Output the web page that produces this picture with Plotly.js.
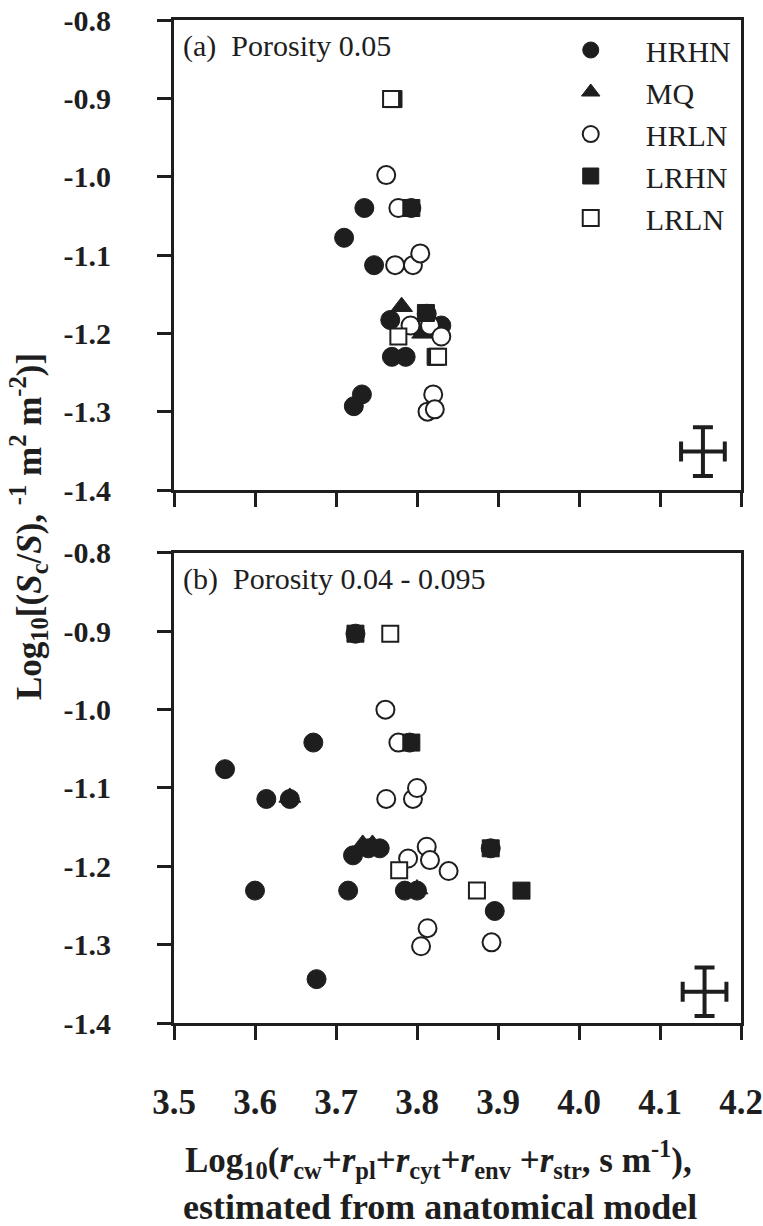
<!DOCTYPE html>
<html>
<head>
<meta charset="utf-8">
<script src="https://cdn.plot.ly/plotly-3.0.1.min.js"></script>
<style>
html,body{margin:0;padding:0;background:#fff;}
#chart{width:763px;height:1226px;}
</style>
</head>
<body>
<div id="chart"></div>
<script>
// ---- Data: panel (a) Porosity 0.05 ----
const a_HRHN_x = [3.735, 3.710, 3.747, 3.767, 3.830, 3.769, 3.786, 3.732, 3.722, 3.793];
const a_HRHN_y = [-1.040, -1.078, -1.113, -1.183, -1.190, -1.230, -1.230, -1.278, -1.293, -1.040];
const a_MQ_x = [3.781, 3.807];
const a_MQ_y = [-1.166, -1.200];
const a_HRLN_x = [3.762, 3.777, 3.773, 3.795, 3.804, 3.812, 3.792, 3.816, 3.830, 3.820, 3.813, 3.822];
const a_HRLN_y = [-0.998, -1.040, -1.113, -1.113, -1.098, -1.175, -1.190, -1.190, -1.204, -1.278, -1.300, -1.297];
const a_LRHN_x = [3.771, 3.793, 3.811, 3.823];
const a_LRHN_y = [-0.901, -1.040, -1.174, -1.230];
const a_LRLN_x = [3.768, 3.777, 3.826];
const a_LRLN_y = [-0.901, -1.204, -1.230];

// ---- Data: panel (b) Porosity 0.04 - 0.095 ----
const b_HRHN_x = [3.724, 3.672, 3.791, 3.563, 3.614, 3.643, 3.721, 3.740, 3.754, 3.891, 3.600, 3.715, 3.785, 3.800, 3.896, 3.676];
const b_HRHN_y = [-0.903, -1.042, -1.042, -1.076, -1.114, -1.114, -1.186, -1.177, -1.177, -1.177, -1.231, -1.231, -1.231, -1.231, -1.257, -1.344];
const b_MQ_x = [3.643, 3.733, 3.745, 3.800];
const b_MQ_y = [-1.112, -1.172, -1.172, -1.229];
const b_HRLN_x = [3.761, 3.777, 3.762, 3.795, 3.800, 3.812, 3.789, 3.816, 3.839, 3.813, 3.805, 3.892];
const b_HRLN_y = [-1.000, -1.042, -1.114, -1.114, -1.100, -1.175, -1.190, -1.192, -1.206, -1.279, -1.302, -1.297];
const b_LRHN_x = [3.724, 3.793, 3.891, 3.929];
const b_LRHN_y = [-0.903, -1.042, -1.177, -1.231];
const b_LRLN_x = [3.767, 3.778, 3.874];
const b_LRLN_y = [-0.903, -1.205, -1.231];

// ---- Representative error bars ----
const errA_x = [4.153], errA_y = [-1.351];
const errB_x = [4.155], errB_y = [-1.360];
const errHalfX = [0.027];
const errHalfY = [0.031];

// ---- Ticks ----
const xTickVals = [3.5, 3.6, 3.7, 3.8, 3.9, 4.0, 4.1, 4.2];
const xTickText = ["3.5", "3.6", "3.7", "3.8", "3.9", "4.0", "4.1", "4.2"];
const yTickVals = [-0.8, -0.9, -1.0, -1.1, -1.2, -1.3, -1.4];
const yTickText = ["-0.8", "-0.9", "-1.0", "-1.1", "-1.2", "-1.3", "-1.4"];

const seriesNames = ["HRHN", "MQ", "HRLN", "LRHN", "LRLN"];

const ink = '#1e1e1e';
const serif = 'Liberation Serif, Times New Roman, Times, serif';
const styles = {
  HRHN: {symbol: 'circle', size: 19, color: ink, line: {color: ink, width: 1}},
  MQ:   {symbol: 'triangle-up', size: 19, color: ink, line: {color: ink, width: 1}},
  HRLN: {symbol: 'circle', size: 18, color: '#ffffff', line: {color: ink, width: 2}},
  LRHN: {symbol: 'square', size: 17, color: ink, line: {color: ink, width: 1}},
  LRLN: {symbol: 'square', size: 16, color: '#ffffff', line: {color: ink, width: 2}}
};

const panelA = {HRHN: [a_HRHN_x, a_HRHN_y], MQ: [a_MQ_x, a_MQ_y], HRLN: [a_HRLN_x, a_HRLN_y], LRHN: [a_LRHN_x, a_LRHN_y], LRLN: [a_LRLN_x, a_LRLN_y]};
const panelB = {HRHN: [b_HRHN_x, b_HRHN_y], MQ: [b_MQ_x, b_MQ_y], HRLN: [b_HRLN_x, b_HRLN_y], LRHN: [b_LRHN_x, b_LRHN_y], LRLN: [b_LRLN_x, b_LRLN_y]};

const traces = [];
seriesNames.forEach(n => {
  traces.push({
    type: 'scatter', mode: 'markers', name: n,
    x: panelA[n][0], y: panelA[n][1], xaxis: 'x2', yaxis: 'y2',
    marker: styles[n], showlegend: true, cliponaxis: false
  });
});
seriesNames.forEach(n => {
  traces.push({
    type: 'scatter', mode: 'markers', name: n,
    x: panelB[n][0], y: panelB[n][1], xaxis: 'x', yaxis: 'y',
    marker: styles[n], showlegend: false, cliponaxis: false
  });
});
const errStyle = (ax, ay, xa, ya) => ({
  type: 'scatter', mode: 'markers', x: ax, y: ay, xaxis: xa, yaxis: ya,
  marker: {size: 1, color: 'rgba(0,0,0,0)'}, showlegend: false, hoverinfo: 'skip',
  error_x: {type: 'data', array: errHalfX, color: ink, thickness: 4, width: 10},
  error_y: {type: 'data', array: errHalfY, color: ink, thickness: 4, width: 10}
});
traces.push(errStyle(errA_x, errA_y, 'x2', 'y2'));
traces.push(errStyle(errB_x, errB_y, 'x', 'y'));

const axBase = {
  showline: true, mirror: true, linecolor: ink, linewidth: 3,
  ticks: 'outside', ticklen: 14, tickwidth: 3, tickcolor: ink,
  showgrid: false, zeroline: false
};
const xTickFont = {family: serif, size: 35, color: ink, weight: 'bold'};
const yTickFont = {family: serif, size: 30, color: ink, weight: 'bold'};

const layout = {
  width: 763, height: 1226,
  margin: {l: 174, r: 22, t: 20, b: 203},
  paper_bgcolor: '#ffffff', plot_bgcolor: '#ffffff',
  font: {family: serif, color: ink},
  xaxis: Object.assign({}, axBase, {domain: [0, 1], anchor: 'y', range: [3.5, 4.2],
    tickmode: 'array', tickvals: xTickVals, ticktext: xTickText, tickfont: xTickFont,
    ticklabelstandoff: 32, ticklabeloverflow: 'allow'}),
  xaxis2: Object.assign({}, axBase, {domain: [0, 1], anchor: 'y2', range: [3.5, 4.2],
    tickmode: 'array', tickvals: xTickVals, ticktext: xTickText, showticklabels: false}),
  yaxis: Object.assign({}, axBase, {domain: [0, 0.4686], anchor: 'x', range: [-1.4, -0.8],
    tickmode: 'array', tickvals: yTickVals, ticktext: yTickText, tickfont: yTickFont, ticklabelstandoff: 40}),
  yaxis2: Object.assign({}, axBase, {domain: [0.5314, 1], anchor: 'x2', range: [-1.4, -0.8],
    tickmode: 'array', tickvals: yTickVals, ticktext: yTickText, tickfont: yTickFont, ticklabelstandoff: 40}),
  legend: {
    x: 0.638, y: 0.996, xanchor: 'left', yanchor: 'top', bgcolor: 'rgba(0,0,0,0)',
    font: {family: serif, size: 30, color: ink}, tracegroupgap: 0,
    itemwidth: 100
  },
  showlegend: true,
  annotations: [
    {xref: 'paper', yref: 'paper', x: 0.012, y: 0.993, xanchor: 'left', yanchor: 'top',
     text: '(a)  Porosity 0.05', showarrow: false,
     font: {family: serif, size: 30, color: ink}},
    {xref: 'paper', yref: 'paper', x: 0.012, y: 0.462, xanchor: 'left', yanchor: 'top',
     text: '(b)  Porosity 0.04 - 0.095', showarrow: false,
     font: {family: serif, size: 30, color: ink}},
    {xref: 'paper', yref: 'paper', x: 0.467, y: -0.1356, xanchor: 'center', yanchor: 'middle',
     text: '<b>Log<sub>10</sub>(<i>r</i><sub>cw</sub>+<i>r</i><sub>pl</sub>+<i>r</i><sub>cyt</sub>+<i>r</i><sub>env</sub> +<i>r</i><sub>str</sub>, s m<sup>-1</sup>),</b>',
     showarrow: false, font: {family: serif, size: 35, color: ink}},
    {xref: 'paper', yref: 'paper', x: 0.469, y: -0.1835, xanchor: 'center', yanchor: 'middle',
     text: '<b>estimated from anatomical model</b>',
     showarrow: false, font: {family: serif, size: 36, color: ink}},
    {xref: 'paper', yref: 'paper', x: -0.2575, y: 0.4955, xanchor: 'center', yanchor: 'middle', textangle: -90,
     text: '<b>Log<sub>10</sub>[(<i>S</i><sub>c</sub>/<i>S</i>), <sup>-1</sup> m<sup>2</sup> m<sup>-2</sup>)]</b>',
     showarrow: false, font: {family: serif, size: 35, color: ink}}
  ]
};

Plotly.newPlot('chart', traces, layout, {displayModeBar: false, staticPlot: true});
</script>
</body>
</html>
